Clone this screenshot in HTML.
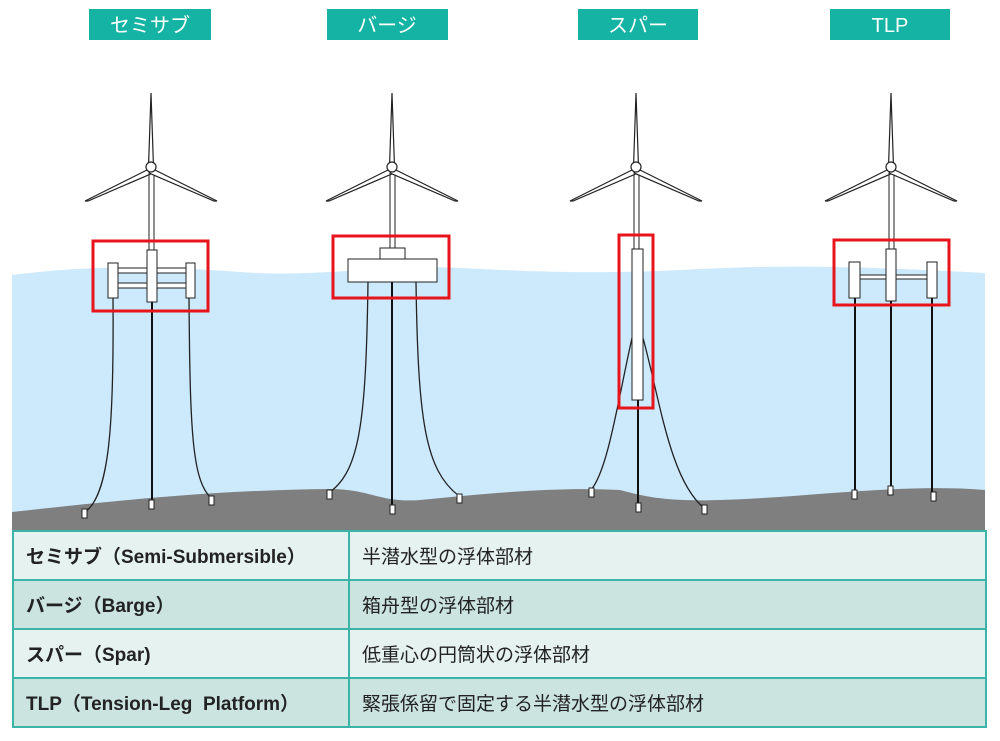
<!DOCTYPE html>
<html><head><meta charset="utf-8"><style>
body{margin:0;width:1000px;height:741px;background:#fff;overflow:hidden;position:relative;font-family:"Liberation Sans","Noto Sans CJK JP",sans-serif}
svg{position:absolute;left:0;top:0}
table{position:absolute;left:12px;top:530px;width:975px;border-collapse:collapse}
td{border:2px solid #3bb3a6;height:47px;font-size:19px;color:#222;padding:0 0 0 12px}
td.a{width:322px;font-weight:bold}
tr.l td{background:#e6f2f0}
tr.d td{background:#cce4e0}
</style></head><body>
<svg width="1000" height="741" viewBox="0 0 1000 741">
<defs>
<g id="tb" stroke="#222" stroke-width="1.2" fill="#fff">
<path d="M-2.5 0 L0 -74 L2.5 0 Z"/>
<path d="M-2 2 L-66 34 L-63 34 L2 6 Z"/>
<path d="M2 2 L66 34 L63 34 L-2 6 Z"/>
<circle cx="0" cy="0" r="5"/>
</g>
</defs>
<path d="M12 275 C90 265 160 266 240 272 C320 278 380 264 460 268 C540 272 600 274 680 270 C760 266 820 264 985 273 L985 520 L12 520 Z" fill="#cdeafd"/>
<path d="M12 512 C120 500 220 490 330 489 C370 489 380 503 420 500 C500 492 560 487 620 490 C640 495 660 502 720 500 C800 498 900 483 985 490 L985 531 L12 531 Z" fill="#7f7f7f"/>
<g fill="#14b3a3"><rect x="89" y="9" width="122" height="31"/><rect x="327" y="9" width="121" height="31"/><rect x="578" y="9" width="120" height="31"/><rect x="830" y="9" width="120" height="31"/></g>
<g fill="#fff" font-size="20" text-anchor="middle" font-family="Liberation Sans,Noto Sans CJK JP,sans-serif"><text x="150" y="32">セミサブ</text><text x="387" y="32">バージ</text><text x="638" y="32">スパー</text><text x="890" y="32">TLP</text></g>
<g stroke="#222" fill="#fff" stroke-width="1">
<rect x="149" y="167" width="5" height="83"/><rect x="390" y="167" width="5" height="81"/><rect x="634" y="167" width="5" height="82"/><rect x="889" y="167" width="5" height="82"/>
</g>
<use href="#tb" x="151" y="167"/><use href="#tb" x="392" y="167"/><use href="#tb" x="636" y="167"/><use href="#tb" x="891" y="167"/>
<g stroke="#222" fill="none" stroke-width="1.3">
<path d="M113 298 C114 420 110 495 85 512"/><path d="M189 298 C190 430 192 480 211 498"/>
<path d="M368 282 C366 420 360 470 330 492"/><path d="M416 282 C418 420 425 470 459 496"/>
<path d="M632 338 C618 400 608 470 591 490"/><path d="M643 338 C660 400 670 480 704 508"/>
</g>
<g stroke="#111" stroke-width="2">
<line x1="152" y1="302" x2="152" y2="502"/><line x1="392" y1="282" x2="392" y2="507"/><line x1="638" y1="400" x2="638" y2="505"/>
<line x1="855" y1="298" x2="855" y2="492"/><line x1="891" y1="301" x2="891" y2="488"/><line x1="932" y1="298" x2="932" y2="494"/>
</g>
<g stroke="#222" fill="#fff" stroke-width="1">
<rect x="118" y="268" width="29" height="5"/><rect x="118" y="283" width="29" height="5"/><rect x="157" y="268" width="29" height="5"/><rect x="157" y="283" width="29" height="5"/>
<rect x="108" y="263" width="10" height="35"/><rect x="147" y="250" width="10" height="52"/><rect x="186" y="263" width="9" height="35"/>
<rect x="380" y="248" width="25" height="11"/><rect x="348" y="259" width="89" height="23"/>
<rect x="632" y="249" width="11" height="151"/>
<rect x="860" y="275" width="26" height="4"/><rect x="896" y="275" width="31" height="4"/>
<rect x="849" y="262" width="11" height="36"/><rect x="886" y="249" width="10" height="52"/><rect x="927" y="262" width="10" height="36"/>
<rect x="82" y="509" width="5" height="9"/><rect x="149" y="500" width="5" height="9"/><rect x="209" y="496" width="5" height="9"/>
<rect x="327" y="490" width="5" height="9"/><rect x="390" y="505" width="5" height="9"/><rect x="457" y="494" width="5" height="9"/>
<rect x="589" y="488" width="5" height="9"/><rect x="636" y="503" width="5" height="9"/><rect x="702" y="505" width="5" height="9"/>
<rect x="852" y="490" width="5" height="9"/><rect x="888" y="486" width="5" height="9"/><rect x="931" y="492" width="5" height="9"/>
</g>
<g stroke="#e8141b" stroke-width="3" fill="none">
<rect x="93" y="241" width="115" height="70"/><rect x="333" y="236" width="116" height="62"/><rect x="619" y="235" width="34" height="173"/><rect x="834" y="240" width="115" height="65"/>
</g>
</svg>
<table>
<tr class="l"><td class="a">セミサブ（Semi-Submersible）</td><td>半潜水型の浮体部材</td></tr>
<tr class="d"><td class="a">バージ（Barge）</td><td>箱舟型の浮体部材</td></tr>
<tr class="l"><td class="a">スパー（Spar)</td><td>低重心の円筒状の浮体部材</td></tr>
<tr class="d"><td class="a">TLP（Tension-Leg&nbsp; Platform）</td><td>緊張係留で固定する半潜水型の浮体部材</td></tr>
</table>
</body></html>
